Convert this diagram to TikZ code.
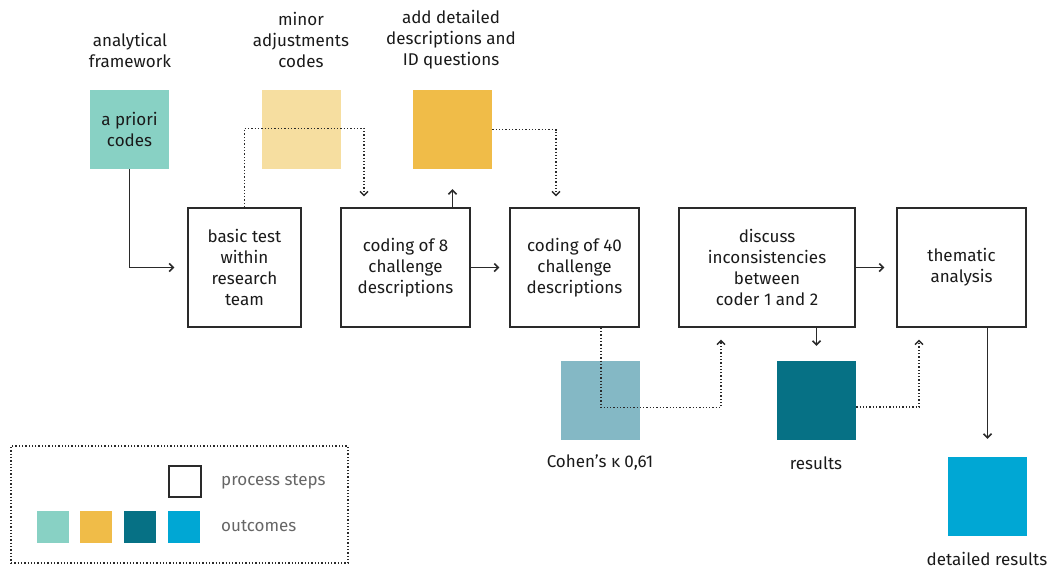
\documentclass[tikz,border=0pt]{standalone}
\usepackage{fontspec}
\setmainfont{Fira Sans}
\usetikzlibrary{arrows.meta,calc}
\definecolor{cApriori}{HTML}{88D1C4}
\definecolor{cMinor}{HTML}{F6DEA0}
\definecolor{cAdd}{HTML}{F0BC48}
\definecolor{cCohen}{HTML}{84B8C5}
\definecolor{cRes}{HTML}{067185}
\definecolor{cDet}{HTML}{00A7D4}
\definecolor{cLine}{HTML}{2A2A2A}
\definecolor{cText}{HTML}{1A1A1A}
\definecolor{cGray}{HTML}{666666}
\begin{document}
\begin{tikzpicture}[x=1pt,y=-1pt,
  every node/.style={font=\fontsize{17}{21}\selectfont, text=cText},
  stepbox/.style={draw=cLine, line width=1.4pt, inner sep=0pt, align=center},
  outbox/.style={inner sep=0pt, minimum width=79pt, minimum height=79pt, align=center},
  lbl/.style={inner sep=0pt, align=center},
  arr/.style={draw=cLine, line width=1.5pt, -{Straight Barb[length=4pt,width=8pt]}},
  dotarr/.style={draw=cLine, line width=1.3pt, dash pattern=on 1.3pt off 2pt, -{Straight Barb[length=4pt,width=8pt]}},
  dotline/.style={draw=cLine, line width=1.3pt, dash pattern=on 1.3pt off 2pt},
  legtxt/.style={inner sep=0pt, anchor=west, text=cGray}
]
\useasboundingbox (0,0) rectangle (1052,568);

% outcome boxes (top)
\node[outbox, fill=cApriori] (apriori) at (129.5,129.5) {a priori\\codes};
\node[outbox, fill=cMinor] (minor) at (301.5,129.5) {};
\node[outbox, fill=cAdd] (adddet) at (452.5,129.5) {};

% labels above
\node[lbl] (lapriori) at (130,50.5) {analytical\\framework};
\node[lbl] (lminor) at (301,40) {minor\\adjustments\\codes};
\node[lbl] (ladd) at (451,40) {add detailed\\descriptions and\\ID questions};

% process steps
\node[stepbox, minimum width=113pt, minimum height=119pt] (basic) at (244.5,267.5) {basic test\\within\\research\\team};
\node[stepbox, minimum width=129pt, minimum height=119pt] (c8) at (405.5,267.5) {coding of 8\\challenge\\descriptions};
\node[stepbox, minimum width=129pt, minimum height=119pt] (c40) at (574.5,267.5) {coding of 40\\challenge\\descriptions};
\node[stepbox, minimum width=176pt, minimum height=119pt] (disc) at (767,267.5) {discuss\\inconsistencies\\between\\coder 1 and 2};
\node[stepbox, minimum width=129pt, minimum height=119pt] (them) at (961.5,267.5) {thematic\\analysis};

% outcome boxes (bottom)
\node[outbox, fill=cCohen] (cohen) at (600.5,400.5) {};
\node[outbox, fill=cRes] (results) at (816.5,400.5) {};
\node[outbox, fill=cDet] (detailed) at (987.5,496.5) {};

\node[lbl] (lcohen) at (600,463) {Cohen’s κ 0,61};
\node[lbl] (lresults) at (816,463) {results};
\node[lbl] (ldetailed) at (987,559) {detailed results};

% connectors
\draw[arr] (apriori.south) |- ([xshift=-13pt]basic.west);
\draw[dotarr] (basic.north) -- ++(0,-79) -| ([xshift=-41.5pt,yshift=11pt]c8.north);
\draw[arr] (adddet.south |- c8.north) -- ([yshift=-20pt]adddet.south);
\draw[dotarr] (adddet.east) -| ([xshift=-18.5pt,yshift=11pt]c40.north);
\draw[arr] (c8.east) -- ([xshift=-10pt]c40.west);
\draw[dotarr] ([xshift=26.5pt]c40.south) -- ++(0,80) -| ([xshift=-46pt,yshift=-12pt]disc.south);
\draw[arr] (results.north |- disc.south) -- ([yshift=15pt]results.north);
\draw[dotarr] ([yshift=-6.5pt]results.east) -| ([xshift=-42.5pt,yshift=-12pt]them.south);
\draw[arr] (disc.east) -- ([xshift=-12pt]them.west);
\draw[arr] (detailed.north |- them.south) -- ([yshift=18pt]detailed.north);

% legend
\node[draw=cLine, line width=1.4pt, inner sep=0pt, minimum width=32pt, minimum height=31pt] (legstep) at (185,481.5) {};
\node[inner sep=0pt, minimum size=32pt, fill=cApriori] (leg1) at (53,527) {};
\node[inner sep=0pt, minimum size=32pt, fill=cAdd] (leg2) at (96,527) {};
\node[inner sep=0pt, minimum size=32pt, fill=cRes] (leg3) at (140,527) {};
\node[inner sep=0pt, minimum size=32pt, fill=cDet] (leg4) at (184,527) {};
\node[legtxt] (tsteps) at (221,482) {process steps};
\node[legtxt] (tout) at (221,526) {outcomes};
\node[dotline, inner sep=0pt, minimum width=337pt, minimum height=117pt] (legend) at (179.5,504.5) {};
\end{tikzpicture}
\end{document}
